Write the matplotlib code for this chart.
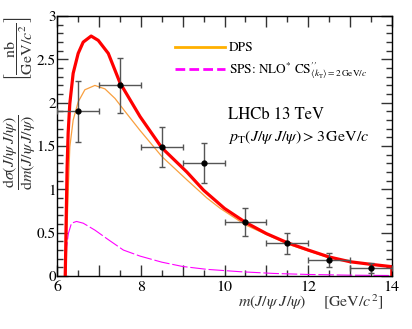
import numpy as np
import matplotlib
matplotlib.use("Agg")
import matplotlib.pyplot as plt
from matplotlib.lines import Line2D
from matplotlib.ticker import MultipleLocator, FuncFormatter

plt.rcParams['font.family'] = 'STIXGeneral'
plt.rcParams['mathtext.fontset'] = 'stix'

# data points (LHCb 13 TeV)
m_pts = [6.5, 7.5, 8.5, 9.5, 10.5, 11.5, 12.5, 13.5]
xs_pts = [1.90, 2.20, 1.49, 1.30, 0.62, 0.38, 0.19, 0.09]
xs_err = [0.35, 0.32, 0.23, 0.23, 0.16, 0.12, 0.08, 0.06]
m_err = [0.5, 0.5, 0.5, 0.5, 0.5, 0.5, 0.5, 0.5]

# total (red)
m_tot = [6.19, 6.20, 6.215, 6.235, 6.26, 6.30, 6.38, 6.50, 6.62, 6.81, 6.98, 7.22, 7.50,
         7.98, 8.50, 9.10, 9.50, 10.0, 10.5, 11.0, 11.5, 12.0, 12.5, 13.0, 13.5, 14.0, 14.0]
xs_tot = [0.0, 0.25, 0.70, 1.25, 1.65, 1.99, 2.34, 2.57, 2.70, 2.77, 2.72, 2.57, 2.23,
          1.84, 1.48, 1.20, 0.99, 0.78, 0.62, 0.49, 0.385, 0.30, 0.22, 0.165, 0.135, 0.108, 0.0]

# DPS (orange)
m_dps = [6.21, 6.23, 6.265, 6.30, 6.38, 6.50, 6.66, 6.90, 7.14, 7.38, 7.62, 7.98,
         8.50, 9.10, 9.58, 9.90, 10.5, 11.5, 12.5, 13.5, 14.0]
xs_dps = [0.0, 0.50, 1.03, 1.49, 1.80, 2.01, 2.15, 2.20, 2.16, 2.05, 1.90, 1.68,
          1.38, 1.11, 0.90, 0.78, 0.59, 0.37, 0.21, 0.13, 0.105]

# SPS (magenta)
m_sps = [6.20, 6.225, 6.265, 6.34, 6.46, 6.62, 6.90, 7.22, 7.58, 7.98, 8.5, 9.0,
         9.58, 10.37, 11.17, 12.0, 13.0, 14.0]
xs_sps = [0.0, 0.34, 0.49, 0.61, 0.63, 0.61, 0.53, 0.42, 0.30, 0.23, 0.16, 0.11,
          0.077, 0.05, 0.03, 0.018, 0.01, 0.006]

fig = plt.figure(figsize=(4.12, 3.29), dpi=100)
ax = fig.add_axes([0.139, 0.161, 0.812, 0.790])

ax.plot(m_dps, xs_dps, color='#F9A03F', lw=0.9)
ax.plot(m_sps, xs_sps, color='#FF00FF', lw=0.8, dashes=[14, 2.5])
ax.plot(m_tot, xs_tot, color='#FF0000', lw=2.3)
ax.errorbar(m_pts, xs_pts, yerr=xs_err, xerr=m_err, fmt='o', color='black', ms=3.5,
            ecolor='#555555', elinewidth=1.0, capsize=2.2, capthick=1.0, zorder=5)

ax.set_xlim(6, 14)
ax.set_ylim(0, 3)
ax.xaxis.set_major_locator(MultipleLocator(1))
ax.xaxis.set_minor_locator(MultipleLocator(0.5))
ax.xaxis.set_major_formatter(FuncFormatter(lambda v, p: '%d' % v if int(round(v)) % 2 == 0 else ''))
ax.yaxis.set_major_locator(MultipleLocator(0.5))
ax.yaxis.set_minor_locator(MultipleLocator(0.1))
ax.yaxis.set_major_formatter(FuncFormatter(lambda v, p: '%g' % v))
ax.tick_params(which='both', direction='in', top=True, right=True, labelsize=11.5, color='#333333')
ax.tick_params(axis='y', labelsize=11, pad=1)
ax.tick_params(axis='x', pad=3.5)
ax.tick_params(which='major', length=8, width=1)
ax.tick_params(which='minor', length=4, width=1)
for s in ax.spines.values():
    s.set_linewidth(1.0)

handles = [Line2D([], [], color='#FFB000', lw=2),
           Line2D([], [], color='#FF00FF', lw=2, dashes=[3.5, 1.5])]
labels = ['DPS', r'SPS: NLO$^{*}$ CS$^{\prime\prime}_{\langle k_{\mathrm{T}}\rangle=2\,\mathrm{GeV}/c}$']
leg = ax.legend(handles, labels, loc='upper left', bbox_to_anchor=(175 / 412, 1 - 42 / 329),
                bbox_transform=fig.transFigure, frameon=False, fontsize=9.5, borderpad=0,
                handlelength=3.8, handletextpad=0.3, labelspacing=0.45, borderaxespad=0)

fig.text(228 / 412, 1 - 115 / 329, 'LHCb 13 TeV', fontsize=12, va='center', ha='left')
fig.text(228 / 412, 1 - 137 / 329, r'$p_{\mathrm{T}}(J/\psi\;J/\psi) > 3\,\mathrm{GeV}/c$',
         fontsize=11.5, va='center', ha='left')

fig.text(20 / 412, 1 - 152 / 329,
         r'$\dfrac{\mathrm{d}\sigma(J/\psi\,J/\psi)}{\mathrm{d}m(J/\psi\,J/\psi)}$',
         rotation=90, fontsize=11.5, va='center', ha='center', color='#333333')
fig.text(19 / 412, 1 - 49 / 329, r'$\left[\dfrac{\mathrm{nb}}{\mathrm{GeV}/c^2}\right]$',
         rotation=90, fontsize=11.5, va='center', ha='center', color='#333333')
fig.text(272 / 412, 1 - 302 / 329, r'$m(J/\psi\;J/\psi)$', fontsize=11.5,
         va='center', ha='center', color='#333333')
fig.text(353 / 412, 1 - 302 / 329, r'$\left[\mathrm{GeV}/c^2\right]$', fontsize=11.5,
         va='center', ha='center', color='#333333')

fig.savefig('out.png', dpi=100)
